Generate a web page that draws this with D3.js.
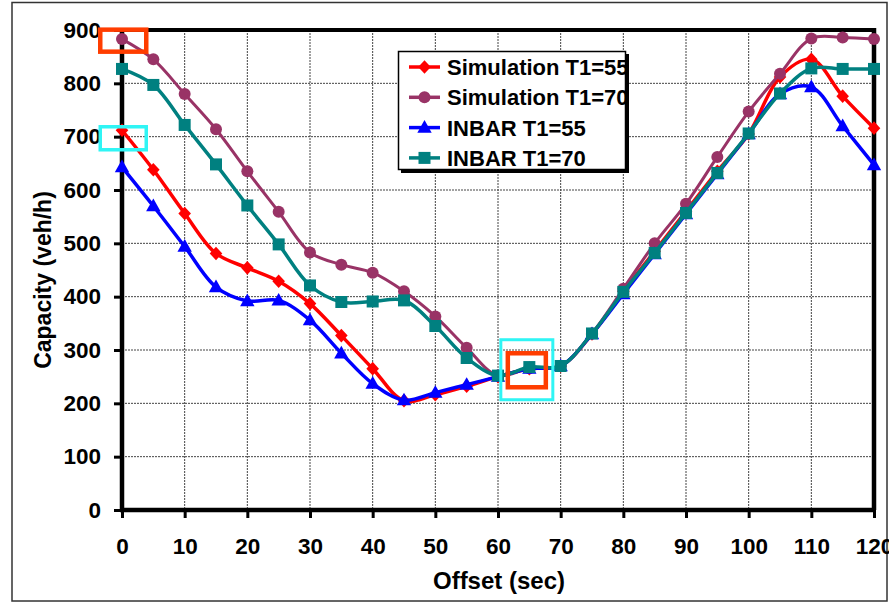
<!DOCTYPE html>
<html>
<head>
<meta charset="utf-8">
<script src="https://cdn.jsdelivr.net/npm/d3@7"></script>
<style>
  html, body { margin: 0; padding: 0; background: #fff; }
  svg { display: block; }
  text { font-family: "Liberation Sans", Arial, sans-serif; font-weight: bold; fill: #000; }
</style>
</head>
<body>
<svg id="chart" width="889" height="605"></svg>
<script>
// Offset values (sec) shared by all series
const offsets = [0, 5, 10, 15, 20, 25, 30, 35, 40, 45, 50, 55, 60,
                 65, 70, 75, 80, 85, 90, 95, 100, 105, 110, 115, 120];

// Capacity (veh/h) per series
const simT55 = [712, 638, 556, 481, 454, 429, 387, 327, 265, 205, 216, 232, 250,
                265, 270, 330, 410, 485, 560, 635, 705, 812, 845, 776, 716];
const simT70 = [883, 845, 780, 714, 635, 559, 483, 460, 445, 410, 363, 304, 252,
                266, 270, 331, 415, 500, 574, 662, 747, 818, 884, 886, 883];
const inbarT55 = [643, 570, 494, 418, 392, 393, 356, 294, 237, 206, 220, 235, 250,
                  265, 270, 330, 405, 480, 555, 630, 705, 780, 793, 720, 647];
const inbarT70 = [827, 797, 722, 648, 571, 498, 421, 390, 391, 393, 345, 285, 252,
                  268, 270, 331, 409, 482, 557, 632, 706, 781, 828, 827, 827];

const seriesNames = ["Simulation T1=55", "Simulation T1=70", "INBAR T1=55", "INBAR T1=70"];
const seriesColors = ["#FF0000", "#993366", "#0000FF", "#008080"];
const seriesShapes = ["diamond", "circle", "triangle", "square"];

const xTicks = [0, 10, 20, 30, 40, 50, 60, 70, 80, 90, 100, 110, 120];
const yTicks = [0, 100, 200, 300, 400, 500, 600, 700, 800, 900];

// Highlighted points (offset, capacity) and their box style
const highlights = [
  { x: 0.2, y: 880, kind: "red" },
  { x: 0.2, y: 697, kind: "cyan" },
  { x: 64.6, y: 263, kind: "cyanBig" },
  { x: 64.6, y: 262, kind: "redSmall" }
];

const svg = d3.select("#chart");
const plotL = 122, plotR = 874, plotT = 30, plotB = 510;

const x = d3.scaleLinear().domain([0, 120]).range([plotL, plotR]);
const y = d3.scaleLinear().domain([0, 900]).range([plotB, plotT]);

// outer frame
svg.append("rect")
  .attr("x", 12).attr("y", 2.5).attr("width", 875).attr("height", 598.5)
  .attr("fill", "#fff").attr("stroke", "#333").attr("stroke-width", 1.5);

// grid
const grid = svg.append("g").attr("stroke", "#444").attr("stroke-width", 1)
  .attr("stroke-dasharray", "2,1");
grid.selectAll("line.v").data(xTicks.slice(1, -1)).join("line").attr("class", "v")
  .attr("x1", d => x(d)).attr("x2", d => x(d))
  .attr("y1", plotT).attr("y2", plotB);
grid.selectAll("line.h").data(yTicks.slice(1, -1)).join("line").attr("class", "h")
  .attr("x1", plotL).attr("x2", plotR)
  .attr("y1", d => y(d)).attr("y2", d => y(d));

// top and right frame of the plot area
svg.append("line").attr("x1", plotL).attr("x2", plotR + 2)
  .attr("y1", plotT).attr("y2", plotT).attr("stroke", "#000").attr("stroke-width", 4);
svg.append("line").attr("x1", plotR).attr("x2", plotR)
  .attr("y1", plotT - 2).attr("y2", plotB).attr("stroke", "#000").attr("stroke-width", 4.5);

// axes
const yAxis = svg.append("g").attr("transform", `translate(${plotL},0)`)
  .call(d3.axisLeft(y).tickValues(yTicks).tickSize(8).tickPadding(13));
const xAxis = svg.append("g").attr("transform", `translate(0,${plotB})`)
  .call(d3.axisBottom(x).tickValues(xTicks).tickSize(8).tickPadding(20));

[yAxis, xAxis].forEach(a => {
  a.select(".domain").remove();
  a.selectAll(".tick line").attr("stroke", "#000").attr("stroke-width", 3);
  a.selectAll(".tick text").style("font-size", "22.5px")
    .style("font-family", "'Liberation Sans', Arial, sans-serif").style("font-weight", "bold")
    .attr("fill", "#000");
});
svg.append("line").attr("x1", plotL).attr("x2", plotL)
  .attr("y1", plotT - 2).attr("y2", plotB + 2).attr("stroke", "#000").attr("stroke-width", 4.5);
svg.append("line").attr("x1", plotL - 2).attr("x2", plotR + 2)
  .attr("y1", plotB).attr("y2", plotB).attr("stroke", "#000").attr("stroke-width", 4.5);

// axis titles
svg.append("text").attr("x", 499).attr("y", 589).attr("text-anchor", "middle")
  .style("font-size", "24px").text("Offset (sec)");
svg.append("text").attr("transform", "translate(51,280) rotate(-90)")
  .attr("text-anchor", "middle").style("font-size", "23px").text("Capacity (veh/h)");

// marker shapes
function marker(g, shape, color, cx, cy) {
  if (shape === "circle") {
    g.append("circle").attr("cx", cx).attr("cy", cy).attr("r", 6).attr("fill", color);
  } else if (shape === "square") {
    g.append("rect").attr("x", cx - 6).attr("y", cy - 6).attr("width", 12).attr("height", 12)
      .attr("fill", color);
  } else if (shape === "triangle") {
    g.append("path").attr("d", `M${cx},${cy - 7.5}L${cx + 7.2},${cy + 5.2}L${cx - 7.2},${cy + 5.2}Z`)
      .attr("fill", color);
  } else {
    g.append("path").attr("d", `M${cx},${cy - 6.8}L${cx + 6.3},${cy}L${cx},${cy + 6.8}L${cx - 6.3},${cy}Z`)
      .attr("fill", color);
  }
}

// series lines and markers
const seriesValues = [simT55, simT70, inbarT55, inbarT70];
const lineGen = d3.line().x(d => x(d[0])).y(d => y(d[1])).curve(d3.curveCatmullRom.alpha(0.5));
const plot = svg.append("g");
seriesValues.forEach((vals, i) => {
  const pts = offsets.map((o, k) => [o, vals[k]]);
  const g = plot.append("g");
  g.append("path").attr("d", lineGen(pts)).attr("fill", "none")
    .attr("stroke", seriesColors[i]).attr("stroke-width", i === 1 ? 3 : 3.5)
    .attr("stroke-linejoin", "round");
  pts.forEach(p => marker(g, seriesShapes[i], seriesColors[i], x(p[0]), y(p[1])));
});

// highlight boxes
const boxStyle = {
  red: { w: 46, h: 22, color: "#FF3D00", sw: 4.5 },
  redSmall: { w: 38, h: 34, color: "#FF3D00", sw: 4.5 },
  cyan: { w: 46, h: 23, color: "#2FF5F5", sw: 3.5 },
  cyanBig: { w: 52, h: 60, color: "#2FF5F5", sw: 3 }
};
highlights.forEach(h => {
  const s = boxStyle[h.kind];
  svg.append("rect")
    .attr("x", x(h.x) - s.w / 2).attr("y", y(h.y) - s.h / 2)
    .attr("width", s.w).attr("height", s.h)
    .attr("fill", "none").attr("stroke", s.color).attr("stroke-width", s.sw);
});

// legend
const lg = svg.append("g");
lg.append("rect").attr("x", 401).attr("y", 54).attr("width", 228).attr("height", 119).attr("fill", "#000");
lg.append("rect").attr("x", 398.5).attr("y", 51.5).attr("width", 227).attr("height", 118)
  .attr("fill", "#fff").attr("stroke", "#000").attr("stroke-width", 1.5);
seriesNames.forEach((name, i) => {
  const yy = 67 + i * 30.3;
  lg.append("line").attr("x1", 409).attr("x2", 440).attr("y1", yy).attr("y2", yy)
    .attr("stroke", seriesColors[i]).attr("stroke-width", 3.5);
  marker(lg, seriesShapes[i], seriesColors[i], 424.5, yy);
  lg.append("text").attr("x", 447).attr("y", yy).attr("dy", "0.36em")
    .style("font-size", "22px").text(name);
});
</script>
</body>
</html>
